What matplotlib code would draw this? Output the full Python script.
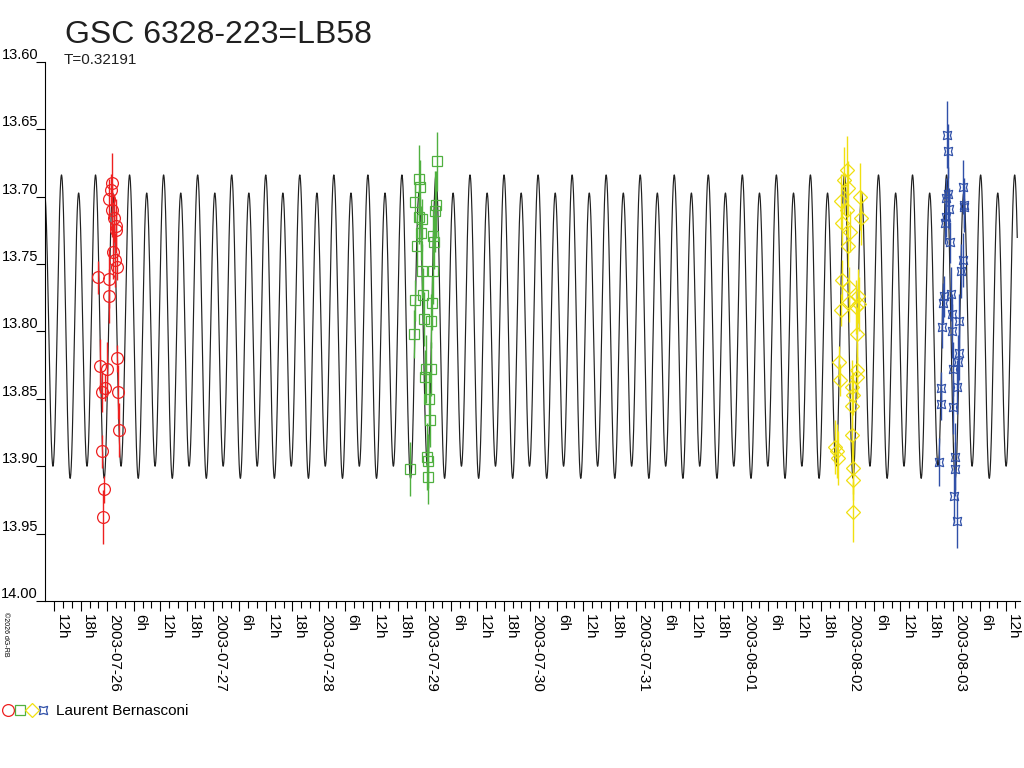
import numpy as np
import matplotlib
matplotlib.use('Agg')
import matplotlib.pyplot as plt
from matplotlib.lines import Line2D
from matplotlib.legend_handler import HandlerTuple

plt.rcParams['font.family'] = ['Liberation Sans', 'DejaVu Sans']

# time = days since 2003-07-26 00:00 UT, mag = V magnitude
title = "GSC 6328-223=LB58"
period = 0.32191
observer = "Laurent Bernasconi"

# light-curve model (primary min epoch, fourier terms)
epoch = -0.352
mag0 = 13.7976
amp2 = 0.1069     # cos(4 pi phase)
amp1c = 0.0045    # cos(2 pi phase)
amp1s = 0.0067    # sin(2 pi phase)
curve_start, curve_end = -0.589, 8.605

red_t = [0.0416, 0.0322, 0.0189, 0.0473, 0.0634, 0.0870, 0.0823, 0.0567, 0.0728, 0.0889,
         -0.0851, 0.0189, 0.0161, 0.0946, -0.0690, 0.0000, -0.0189, -0.0530, 0.1040, 0.1135,
         -0.0473, -0.0284, -0.0378]
red_mag = [13.690, 13.695, 13.702, 13.710, 13.716, 13.722, 13.725, 13.741, 13.747, 13.752,
           13.760, 13.761, 13.774, 13.820, 13.826, 13.828, 13.842, 13.845, 13.845, 13.873,
           13.889, 13.917, 13.938]
red_err = [0.022, 0.012, 0.015, 0.020, 0.018, 0.020, 0.015, 0.020, 0.020, 0.010,
           0.012, 0.022, 0.020, 0.010, 0.020, 0.020, 0.010, 0.015, 0.020, 0.020,
           0.012, 0.010, 0.020]

green_t = [3.1149, 2.9504, 2.9570, 2.9125, 3.1083, 3.0988, 2.9504, 2.9730, 2.9693, 3.0827,
           3.0894, 2.9314, 2.9759, 3.0771, 2.9825, 2.9125, 3.0705, 2.9948, 3.0610, 2.9031,
           3.0137, 3.0610, 3.0071, 3.0449, 3.0515, 3.0260, 3.0355, 2.8624, 3.0355]
green_mag = [13.674, 13.687, 13.693, 13.704, 13.706, 13.711, 13.715, 13.717, 13.727, 13.729,
             13.734, 13.737, 13.755, 13.755, 13.773, 13.777, 13.779, 13.791, 13.792, 13.802,
             13.828, 13.828, 13.834, 13.850, 13.866, 13.893, 13.896, 13.902, 13.908]
green_err = [0.022, 0.025, 0.020, 0.015, 0.025, 0.030, 0.020, 0.015, 0.020, 0.020,
             0.020, 0.015, 0.020, 0.025, 0.020, 0.015, 0.020, 0.020, 0.020, 0.018,
             0.025, 0.020, 0.020, 0.020, 0.020, 0.025, 0.020, 0.020, 0.020]

yellow_t = [6.9919, 6.9664, 7.0071, 6.9352, 6.9919, 6.9447, 7.0232, 7.1177, 7.1243, 7.0071,
            6.9447, 7.0165, 7.1017, 6.9352, 7.0165, 7.1111, 7.0799, 7.0922, 6.9220, 7.0865,
            7.0922, 6.9286, 7.0392, 7.0487, 7.0392, 7.0392, 6.8813, 6.8974, 6.9125, 7.0544,
            7.0487, 7.0544]
yellow_mag = [13.680, 13.688, 13.694, 13.703, 13.710, 13.720, 13.726, 13.700, 13.716, 13.737,
              13.762, 13.767, 13.774, 13.784, 13.778, 13.780, 13.782, 13.802, 13.823, 13.829,
              13.834, 13.836, 13.841, 13.847, 13.855, 13.877, 13.886, 13.889, 13.894, 13.901,
              13.910, 13.934]
yellow_err = [0.025, 0.025, 0.020, 0.020, 0.020, 0.015, 0.015, 0.025, 0.020, 0.015,
              0.015, 0.015, 0.020, 0.012, 0.015, 0.020, 0.020, 0.020, 0.012, 0.020,
              0.015, 0.012, 0.020, 0.015, 0.020, 0.020, 0.020, 0.020, 0.020, 0.020,
              0.015, 0.022]

blue_t = [7.9433, 7.9499, 8.0946, 7.9527, 7.9310, 7.9622, 8.1012, 8.1012, 7.9310, 7.9215,
          7.9688, 8.0889, 8.0700, 7.9754, 7.9120, 7.8998, 7.9877, 7.8903, 7.9877, 8.0567,
          8.0567, 8.0473, 7.9943, 8.0378, 7.8809, 7.8809, 8.0000, 8.0132, 7.8676, 8.0189,
          8.0066, 8.0322]
blue_mag = [13.654, 13.666, 13.693, 13.698, 13.701, 13.709, 13.706, 13.708, 13.715, 13.720,
            13.734, 13.747, 13.755, 13.772, 13.774, 13.779, 13.787, 13.797, 13.800, 13.792,
            13.816, 13.823, 13.828, 13.841, 13.842, 13.854, 13.856, 13.893, 13.897, 13.902,
            13.922, 13.941]
blue_err = [0.025, 0.020, 0.020, 0.020, 0.015, 0.015, 0.020, 0.015, 0.015, 0.015,
            0.015, 0.020, 0.020, 0.020, 0.015, 0.015, 0.015, 0.015, 0.020, 0.020,
            0.020, 0.020, 0.020, 0.020, 0.012, 0.012, 0.020, 0.025, 0.018, 0.020,
            0.020, 0.020]

y_ticks = [13.60, 13.65, 13.70, 13.75, 13.80, 13.85, 13.90, 13.95, 14.00]
day_names = ["2003-07-25", "2003-07-26", "2003-07-27", "2003-07-28", "2003-07-29",
             "2003-07-30", "2003-07-31", "2003-08-01", "2003-08-02", "2003-08-03"]

fig = plt.figure(figsize=(10.24, 7.68), dpi=100)
ax = fig.add_axes([45/1024, 167/768, 975/1024, 539.3/768])

# model curve
tt = np.linspace(curve_start, curve_end, 6000)
ph = (tt - epoch) / period
model = mag0 + amp2*np.cos(4*np.pi*ph) + amp1c*np.cos(2*np.pi*ph) + amp1s*np.sin(2*np.pi*ph)
ax.plot(tt, model, color='#202020', lw=0.85)

series = [
    (red_t, red_mag, red_err, '#ee2020', 'o', 8.5),
    (green_t, green_mag, green_err, '#50b040', 's', 6.5),
    (yellow_t, yellow_mag, yellow_err, '#f0e010', 'D', 7),
    (blue_t, blue_mag, blue_err, '#3050a8', (4, 1, 45), 8.5),
]
handles = []
for t, m, e, col, mk, ms in series:
    ax.errorbar(t, m, yerr=e, fmt='none', ecolor=col, elinewidth=1.0, capsize=0)
    ax.plot(t, m, ls='none', marker=mk, ms=ms, mfc='none', mec=col, mew=0.9)
    handles.append(Line2D([], [], ls='none', marker=mk, ms=ms, mfc='none', mec=col, mew=0.9))

ax.set_xlim(-0.589, 8.631)
ax.set_ylim(14.00, 13.60)

# x ticks: every 6 h labelled, every 2 h minor
major = np.arange(-0.5, 8.51, 0.25)
labels = []
for v in major:
    day = int(np.floor(v + 1e-9))
    hr = int(round((v - day) * 24))
    labels.append(day_names[day + 1] if hr == 0 else "%dh" % hr)
ax.set_xticks(major, labels)
ax.set_xticks(np.arange(-0.5, 8.6, 1/12), minor=True)
ax.tick_params(axis='x', which='major', direction='out', length=7.5, width=0.8, pad=2,
               labelsize=11)
ax.tick_params(axis='x', which='minor', direction='out', length=5, width=0.8)
for lab in ax.get_xticklabels():
    lab.set_rotation(-90)
    lab.set_horizontalalignment('left')
    lab.set_verticalalignment('top')

ax.set_yticks(y_ticks, ["%.2f" % v for v in y_ticks])
ax.tick_params(axis='y', direction='out', length=6.5, width=0.8, pad=-1.5, labelsize=10.5)
for lab in ax.get_yticklabels():
    lab.set_verticalalignment('bottom')

for s in ['top', 'right']:
    ax.spines[s].set_visible(False)
for s in ['left', 'bottom']:
    ax.spines[s].set_linewidth(0.8)

fig.text(65/1024, 1 - 43/768, title, fontsize=23, va='baseline', ha='left', color='#202020')
fig.text(64/1024, 1 - 64/768, "T=%.5f" % period, fontsize=11, va='baseline', ha='left',
         color='#202020')
fig.text(2/1024, 1 - 612/768, "\u00a92026 dG-RB", fontsize=5, rotation=-90,
         va='top', ha='left')

fig.legend([tuple(handles)], [observer], loc='center left',
           bbox_to_anchor=(2/1024, 1 - 711/768), frameon=False, fontsize=11,
           handler_map={tuple: HandlerTuple(ndivide=None, pad=0)},
           handlelength=3.1, handletextpad=0.45, borderpad=0, borderaxespad=0)

fig.savefig('out.png', dpi=100)
